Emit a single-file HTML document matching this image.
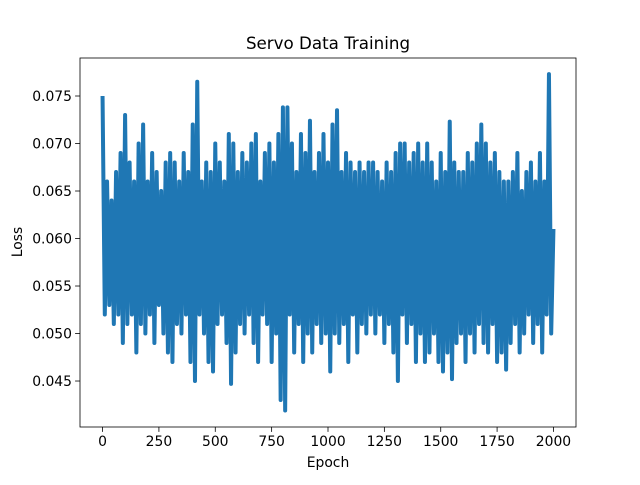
<!DOCTYPE html>
<html><head><meta charset="utf-8"><style>
html,body{margin:0;padding:0;background:#fff;}
svg text{font-family:"DejaVu Sans","Liberation Sans",sans-serif;fill:#000;}
</style></head><body>
<svg id="chart" width="640" height="480" viewBox="0 0 640 480">
<rect width="640" height="480" fill="#fff"/>
<text x="328" y="49" font-size="16.7" text-anchor="middle">Servo Data Training</text>
<g id="plot"></g>
<g id="axes"></g>
<text x="328" y="467" font-size="13.9" text-anchor="middle">Epoch</text>
<text transform="translate(22,242) rotate(-90)" font-size="13.9" text-anchor="middle">Loss</text>
</svg>
<script>
const epochStep = 10;
const lossValues = [
.075,.052,.066,.053,.064,.051,.067,.052,.069,.049,
.073,.051,.068,.052,.066,.048,.070,.051,.072,.050,
.066,.052,.069,.049,.067,.053,.065,.050,.068,.048,
.069,.047,.068,.051,.066,.050,.069,.052,.067,.047,
.072,.045,.0765,.052,.066,.050,.068,.047,.067,.046,
.070,.051,.068,.052,.066,.049,.071,.0447,.070,.048,
.067,.051,.069,.050,.068,.052,.070,.049,.071,.047,
.066,.052,.069,.051,.070,.047,.068,.050,.071,.043,
.0738,.0419,.0738,.052,.070,.048,.067,.051,.071,.047,
.069,.050,.0724,.048,.067,.051,.069,.049,.071,.050,
.068,.046,.072,.050,.0735,.049,.067,.051,.069,.047,
.068,.052,.067,.048,.068,.051,.067,.050,.068,.052,
.068,.050,.067,.052,.066,.049,.068,.051,.067,.048,
.069,.045,.070,.052,.070,.049,.068,.051,.069,.047,
.070,.050,.068,.047,.070,.048,.068,.050,.066,.047,
.069,.046,.067,.048,.0723,.0452,.068,.049,.067,.050,
.067,.047,.069,.050,.068,.048,.070,.051,.072,.049,
.070,.048,.068,.051,.069,.047,.067,.048,.066,.0462,
.066,.049,.067,.051,.069,.048,.065,.050,.067,.052,
.068,.049,.066,.051,.069,.048,.066,.052,.0773,.050,
.061
];
const xTicks = [0,250,500,750,1000,1250,1500,1750,2000];
const yTicks = [0.045,0.050,0.055,0.060,0.065,0.070,0.075];
const yTickLabels = ["0.045","0.050","0.055","0.060","0.065","0.070","0.075"];

const L=80,R=576,T=58,B=427;
const xMin=-100,xMax=2100,yMin=0.04016,yMax=0.0790;
const xs=v=>L+(v-xMin)/(xMax-xMin)*(R-L);
const ys=v=>B-(v-yMin)/(yMax-yMin)*(B-T);
const NS="http://www.w3.org/2000/svg";
const plot=document.getElementById('plot'), axes=document.getElementById('axes');

const pts=lossValues.map((v,i)=>xs(i*epochStep).toFixed(2)+","+ys(v).toFixed(2)).join(" ");
const line=document.createElementNS(NS,'polyline');
line.setAttribute('points',pts);
line.setAttribute('fill','none');
line.setAttribute('stroke','#1f77b4');
line.setAttribute('stroke-width','4');
line.setAttribute('stroke-linejoin','round');


plot.appendChild(line);

const frame=document.createElementNS(NS,'rect');
frame.setAttribute('x',L);frame.setAttribute('y',T);
frame.setAttribute('width',R-L);frame.setAttribute('height',B-T);
frame.setAttribute('fill','none');frame.setAttribute('stroke','#000');frame.setAttribute('stroke-width','0.8');


axes.appendChild(frame);

xTicks.forEach(t=>{
  const x=xs(t);
  const l=document.createElementNS(NS,'line');
  l.setAttribute('x1',x);l.setAttribute('x2',x);l.setAttribute('y1',B);l.setAttribute('y2',B+4.9);
  l.setAttribute('stroke','#000');l.setAttribute('stroke-width','0.8');
  
  
  axes.appendChild(l);
  const tx=document.createElementNS(NS,'text');
  tx.setAttribute('x',x);tx.setAttribute('y',B+19);tx.setAttribute('font-size','13.9');tx.setAttribute('text-anchor','middle');
  tx.textContent=t;
  
  
  axes.appendChild(tx);
});
yTicks.forEach((t,i)=>{
  const y=ys(t);
  const l=document.createElementNS(NS,'line');
  l.setAttribute('x1',L-4.9);l.setAttribute('x2',L);l.setAttribute('y1',y);l.setAttribute('y2',y);
  l.setAttribute('stroke','#000');l.setAttribute('stroke-width','0.8');
  
  
  axes.appendChild(l);
  const tx=document.createElementNS(NS,'text');
  tx.setAttribute('x',L-8);tx.setAttribute('y',y+5);tx.setAttribute('font-size','13.9');tx.setAttribute('text-anchor','end');
  tx.textContent=yTickLabels[i];
  
  
  axes.appendChild(tx);
});
</script>
</body></html>
